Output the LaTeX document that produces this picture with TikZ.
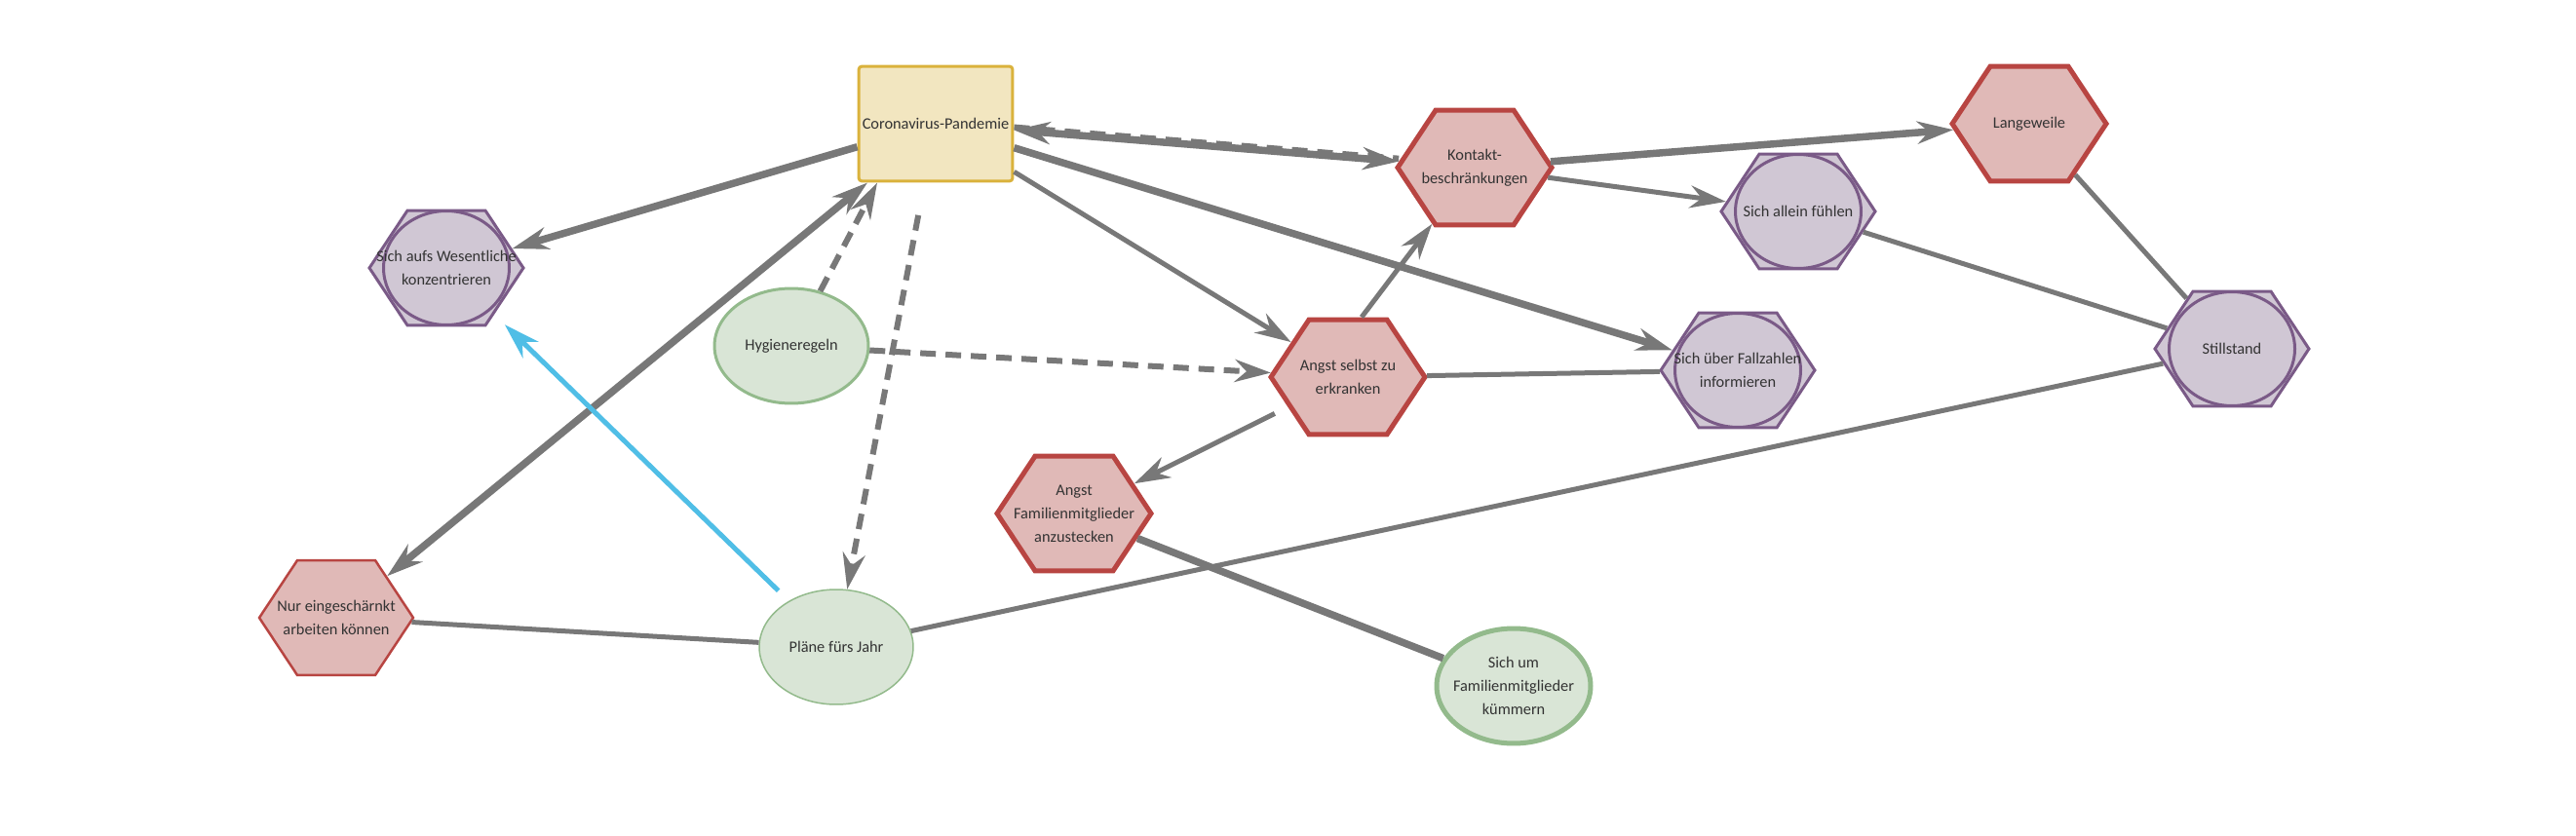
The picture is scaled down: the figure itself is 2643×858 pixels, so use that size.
\documentclass[tikz,border=0pt]{standalone}
\usepackage{fontspec}
\setmainfont{Carlito}
\usetikzlibrary{arrows.meta,shapes.geometric,shapes.symbols}
\definecolor{linegray}{RGB}{120,120,120}
\definecolor{textgray}{RGB}{51,51,51}
\definecolor{redfill}{RGB}{224,185,183}
\definecolor{redline}{RGB}{184,69,66}
\definecolor{purplefill}{RGB}{208,199,212}
\definecolor{purpleline}{RGB}{122,90,135}
\definecolor{greenfill}{RGB}{217,229,214}
\definecolor{greenline}{RGB}{147,186,140}
\definecolor{yellowfill}{RGB}{242,230,192}
\definecolor{yellowline}{RGB}{218,178,60}
\definecolor{arrowblue}{RGB}{80,190,230}
\begin{document}
\begin{tikzpicture}[x=0.02cm,y=-0.02cm,>={Stealth[length=0.74cm,width=0.46cm,inset=0.24cm]},
  box/.style={minimum width=3.16cm,minimum height=2.36cm,inner sep=1pt,align=center,
    text=textgray,font=\fontsize{9.3}{13.7}\selectfont},
  hexa/.style={box,signal,signal to=east and west,signal pointer angle=113,inner xsep=-0.65cm},
  redhex/.style={hexa,fill=redfill,draw=redline,line width=0.1cm},
  purplehex/.style={hexa,fill=purplefill,draw=purpleline,line width=0.06cm,
    path picture={\draw[purpleline,line width=0.06cm] (path picture bounding box.center) ellipse (1.29cm and 1.17cm);}},
  oval/.style={box,ellipse,inner xsep=-0.4cm,fill=greenfill,draw=greenline},
  heavy/.style={color=linegray,line width=0.15cm},
  light/.style={color=linegray,line width=0.1cm},
  hint/.style={color=linegray,line width=0.12cm,dash pattern=on 0.32cm off 0.2cm}]
\useasboundingbox (0,0) rectangle (2643,858);
% nodes
\node[box,fill=yellowfill,draw=yellowline,line width=0.06cm,rounded corners=2pt] (cp) at (960,127) {Coronavirus-Pandemie};
\node[purplehex] (sw) at (458,275) {Sich aufs Wesentliche\\konzentrieren};
\node[oval,line width=0.06cm] (hy) at (812,355) {Hygieneregeln};
\node[redhex] (kb) at (1513,172) {Kontakt-\\beschränkungen};
\node[purplehex] (sa) at (1845,217) {Sich allein fühlen};
\node[redhex] (as) at (1383,387) {Angst selbst zu\\erkranken};
\node[purplehex] (sf) at (1783,380) {Sich über Fallzahlen\\informieren};
\node[redhex] (lw) at (2082,127) {Langeweile};
\node[purplehex] (st) at (2290,358) {Stillstand};
\node[redhex,line width=0.05cm] (ne) at (345,634) {Nur eingeschärnkt\\arbeiten können};
\node[oval,line width=0.03cm] (pj) at (858,664) {Pläne fürs Jahr};
\node[redhex] (af) at (1102,527) {Angst\\Familienmitglieder\\anzustecken};
\node[oval,line width=0.1cm] (sk) at (1553,704) {Sich um\\Familienmitglieder\\kümmern};
% connectors
\draw[heavy,->] (cp) -- (sw);
\draw[hint,transform canvas={yshift=1.7pt}] (cp) -- (kb);
\draw[heavy,<->] (cp) -- (kb);
\draw[light,->] (cp) -- (as);
\draw[heavy,->] (cp) -- (sf);
\draw[heavy,<->] (ne) -- ([xshift=-1.4cm]cp.south);
\draw[hint,->] (hy) -- ([xshift=-1.2cm]cp.south);
\draw[hint,->,shorten <=0.68cm] (cp) -- (pj);
\draw[hint,->] (hy) -- (as);
\draw[light,color=arrowblue,->,shorten <=0.3cm,shorten >=0.3cm] (pj) -- (sw);
\draw[light,->] ([xshift=0.28cm]as.north) -- (kb);
\draw[light,->,shorten <=0.3cm] (as) -- (af);
\draw[heavy,->] (kb) -- (lw);
\draw[light,->] (kb) -- (sa);
\draw[heavy] (af) -- (sk);
\foreach \a/\b in {ne/pj,pj/st,as/sf,sa/st,lw/st} {
    \draw[light] (\a) -- (\b);
}
\end{tikzpicture}
\end{document}
